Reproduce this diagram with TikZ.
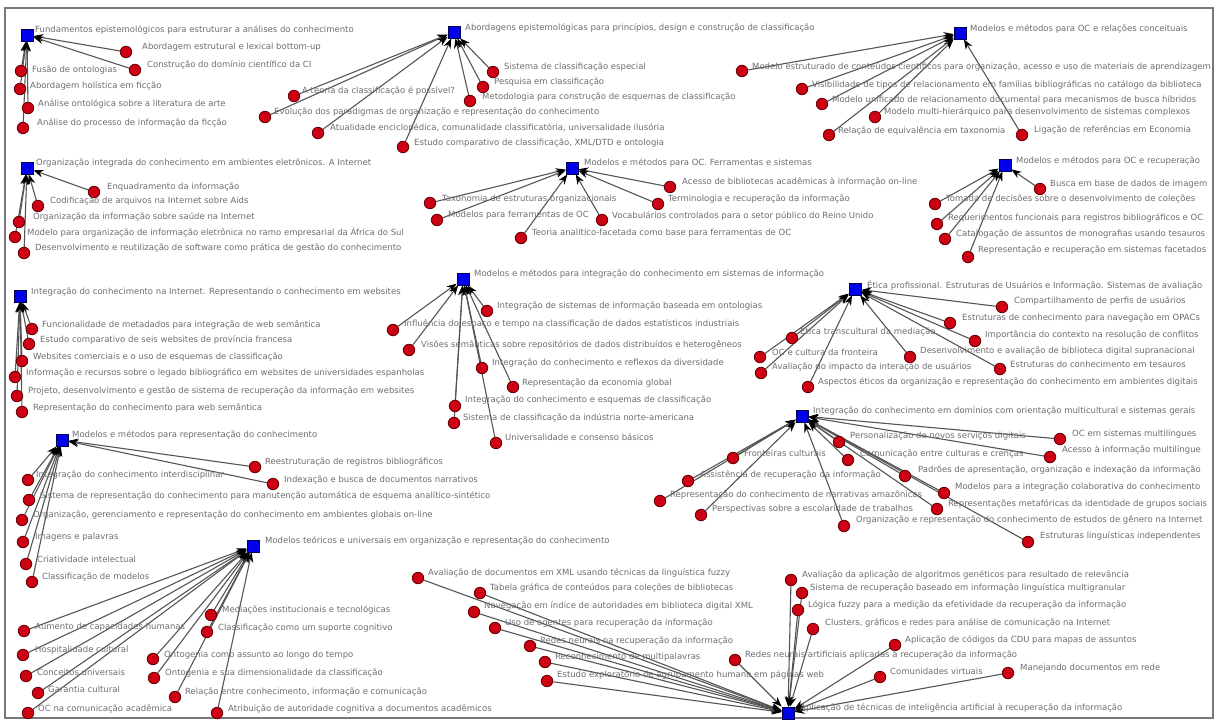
\documentclass[tikz,border=0pt]{standalone}
\usepackage{fontspec}
\setmainfont{DejaVu Sans}
\usetikzlibrary{arrows.meta}
\pgfdeclarelayer{bg}
\pgfsetlayers{bg,main}
\definecolor{txt}{RGB}{110,110,115}
\definecolor{edg}{RGB}{85,85,85}
\definecolor{rfill}{RGB}{205,0,20}
\definecolor{rdraw}{RGB}{100,0,0}
\definecolor{bfill}{RGB}{0,0,235}
\definecolor{bdraw}{RGB}{0,0,80}
\definecolor{frm}{RGB}{120,120,120}
\tikzset{
  hub/.style={rectangle, fill=bfill, draw=bdraw, line width=0.7pt, minimum size=12pt, inner sep=0pt},
  leaf/.style={circle, fill=rfill, draw=rdraw, line width=0.8pt, minimum size=11.5pt, inner sep=0pt},
  lbl/.style={anchor=west, inner sep=0pt, text=txt, font=\fontsize{8.5}{10}\selectfont},
  lnk/.style={draw=edg, line width=1.1pt, -{Stealth[length=10pt,width=7.5pt,color=black]}},
}
\newcommand\hb[6]{\node[hub] (#1) at (#2,#3) {}; \node[lbl] (#1t) at (#4,#5) {#6};}
\newcommand\lf[7]{\node[leaf] (#1) at (#2,#3) {}; \node[lbl] (#1t) at (#4,#5) {#6};
  \begin{pgfonlayer}{bg}\draw[lnk] (#1) -- (#7);\end{pgfonlayer}}
\begin{document}
\begin{tikzpicture}[x=1pt,y=-1pt]
\useasboundingbox (0,0) rectangle (1219,720);
\begin{pgfonlayer}{bg}
\fill[white] (0,0) rectangle (1219,720);
\draw[frm, line width=1.2pt] (5,8) rectangle (1213,718);
\end{pgfonlayer}
% hubs
\hb{h1}{27}{35}{35}{30}{Fundamentos epistemológicos para estruturar a análises do conhecimento}
\hb{h2}{27}{168}{36}{163}{Organização integrada do conhecimento em ambientes eletrônicos. A Internet}
\hb{h3}{20}{296}{31}{292}{Integração do conhecimento na Internet. Representando o conhecimento em websites}
\hb{h4}{62}{440}{72}{435}{Modelos e métodos para representação do conhecimento}
\hb{h5}{253}{546}{265}{541}{Modelos teóricos e universais em organização e representação do conhecimento}
\hb{h6}{454}{32}{465}{28}{Abordagens epistemológicas para princípios, design e construção de classificação}
\hb{h7}{572}{168}{584}{163}{Modelos e métodos para OC. Ferramentas e sistemas}
\hb{h8}{960}{33}{970}{29}{Modelos e métodos para OC e relações conceituais}
\hb{h9}{1005}{165}{1016}{161}{Modelos e métodos para OC e recuperação}
\hb{h10}{463}{279}{474}{274}{Modelos e métodos para integração do conhecimento em sistemas de informação}
\hb{h11}{855}{289}{867}{285}{Ética profissional. Estruturas de Usuários e Informação. Sistemas de avaliação}
\hb{h12}{802}{416}{813}{411}{Integração do conhecimento em domínios com orientação multicultural e sistemas gerais}
\hb{h13}{788}{713}{800}{708}{Aplicação de técnicas de inteligência artificial à recuperação da informação}
% cluster 1
\lf{a1}{126}{52}{142}{47}{Abordagem estrutural e lexical bottom-up}{h1}
\lf{a2}{135}{70}{147}{65}{Construção do domínio científico da CI}{h1}
\lf{a3}{21}{71}{32}{70}{Fusão de ontologias}{h1}
\lf{a4}{20}{89}{30}{86}{Abordagem holística em ficção}{h1}
\lf{a5}{28}{108}{38}{104}{Análise ontológica sobre a literatura de arte}{h1}
\lf{a6}{23}{128}{37}{123}{Análise do processo de informação da ficção}{h1}
% cluster 2
\lf{b1}{94}{192}{107}{187}{Enquadramento da informação}{h2}
\lf{b2}{38}{206}{50}{201}{Codificação de arquivos na Internet sobre Aids}{h2}
\lf{b3}{19}{222}{33}{217}{Organização da informação sobre saúde na Internet}{h2}
\lf{b4}{15}{237}{27}{232}{Modelo para organização de informação eletrônica no ramo empresarial da África do Sul}{h2}
\lf{b5}{24}{253}{35}{248}{Desenvolvimento e reutilização de software como prática de gestão do conhecimento}{h2}
% cluster 3
\lf{c1}{32}{329}{42}{325}{Funcionalidade de metadados para integração de web semântica}{h3}
\lf{c2}{29}{344}{40}{340}{Estudo comparativo de seis websites de província francesa}{h3}
\lf{c3}{22}{361}{33}{357}{Websites comerciais e o uso de esquemas de classificação}{h3}
\lf{c4}{15}{377}{26}{373}{Informação e recursos sobre o legado bibliográfico em websites de universidades espanholas}{h3}
\lf{c5}{17}{396}{28}{391}{Projeto, desenvolvimento e gestão de sistema de recuperação da informação em websites}{h3}
\lf{c6}{22}{412}{33}{408}{Representação do conhecimento para web semântica}{h3}
% cluster 4
\lf{d1}{255}{467}{265}{462}{Reestruturação de registros bibliográficos}{h4}
\lf{d2}{273}{484}{284}{480}{Indexação e busca de documentos narrativos}{h4}
\lf{d3}{28}{480}{36}{475}{Integração do conhecimento interdisciplinar}{h4}
\lf{d4}{29}{500}{40}{496}{Sistema de representação do conhecimento para manutenção automática de esquema analítico-sintético}{h4}
\lf{d5}{22}{520}{33}{515}{Organização, gerenciamento e representação do conhecimento em ambientes globais on-line}{h4}
\lf{d6}{23}{542}{35}{537}{Imagens e palavras}{h4}
\lf{d7}{26}{564}{37}{559}{Criatividade intelectual}{h4}
\lf{d8}{32}{582}{42}{577}{Classificação de modelos}{h4}
% cluster 5
\lf{e1}{211}{615}{222}{610}{Mediações institucionais e tecnológicas}{h5}
\lf{e2}{207}{632}{218}{628}{Classificação como um suporte cognitivo}{h5}
\lf{e3}{24}{631}{35}{627}{Aumento de capacidades humanas}{h5}
\lf{e4}{23}{655}{35}{650}{Hospitalidade cultural}{h5}
\lf{e5}{26}{676}{37}{672}{Conceitos universais}{h5}
\lf{e6}{38}{693}{48}{689}{Garantia cultural}{h5}
\lf{e7}{28}{713}{38}{709}{OC na comunicação acadêmica}{h5}
\lf{e8}{153}{659}{164}{655}{Ontogenia como assunto ao longo do tempo}{h5}
\lf{e9}{154}{678}{165}{673}{Ontogenia e sua dimensionalidade da classificação}{h5}
\lf{e10}{175}{697}{185}{692}{Relação entre conhecimento, informação e comunicação}{h5}
\lf{e11}{217}{713}{228}{709}{Atribuição de autoridade cognitiva a documentos acadêmicos}{h5}
% cluster 6
\lf{f1}{493}{72}{504}{67}{Sistema de classificação especial}{h6}
\lf{f2}{483}{87}{494}{82}{Pesquisa em classificação}{h6}
\lf{f3}{470}{101}{482}{97}{Metodologia para construção de esquemas de classificação}{h6}
\lf{f4}{294}{96}{302}{91}{A teoria da classificação é possível?}{h6}
\lf{f5}{265}{117}{274}{112}{Evolução dos paradigmas de organização e representação do conhecimento}{h6}
\lf{f6}{318}{133}{330}{128}{Atualidade enciclopédica, comunalidade classificatória, universalidade ilusória}{h6}
\lf{f7}{403}{147}{414}{143}{Estudo comparativo de classificação, XML/DTD e ontologia}{h6}
% cluster 7
\lf{g1}{670}{187}{682}{182}{Acesso de bibliotecas acadêmicas à informação on-line}{h7}
\lf{g2}{658}{204}{668}{199}{Terminologia e recuperação da informação}{h7}
\lf{g3}{602}{220}{612}{216}{Vocabulários controlados para o setor público do Reino Unido}{h7}
\lf{g4}{430}{203}{442}{199}{Taxonomia de estruturas organizacionais}{h7}
\lf{g5}{437}{220}{448}{215}{Modelos para ferramentas de OC}{h7}
\lf{g6}{521}{238}{532}{233}{Teoria analítico-facetada como base para ferramentas de OC}{h7}
% cluster 8
\lf{k1}{742}{71}{752}{67}{Modelo estruturado de conteúdos científicos para organização, acesso e uso de materiais de aprendizagem}{h8}
\lf{k2}{802}{89}{812}{85}{Visibilidade de tipos de relacionamento em famílias bibliográficas no catálogo da biblioteca}{h8}
\lf{k3}{822}{104}{832}{100}{Modelo unificado de relacionamento documental para mecanismos de busca híbridos}{h8}
\lf{k4}{875}{117}{884}{112}{Modelo multi-hierárquico para desenvolvimento de sistemas complexos}{h8}
\lf{k5}{829}{135}{838}{131}{Relação de equivalência em taxonomia}{h8}
\lf{k6}{1022}{135}{1034}{130}{Ligação de referências em Economia}{h8}
% cluster 9
\lf{m1}{1040}{189}{1050}{184}{Busca em base de dados de imagem}{h9}
\lf{m2}{935}{204}{946}{199}{Tomada de decisões sobre o desenvolvimento de coleções}{h9}
\lf{m3}{937}{224}{948}{218}{Requerimentos funcionais para registros bibliográficos e OC}{h9}
\lf{m4}{945}{239}{956}{234}{Catalogação de assuntos de monografias usando tesauros}{h9}
\lf{m5}{968}{257}{978}{250}{Representação e recuperação em sistemas facetados}{h9}
% cluster 10
\lf{n1}{487}{311}{497}{306}{Integração de sistemas de informação baseada em ontologias}{h10}
\lf{n2}{393}{330}{404}{324}{Influência do espaço e tempo na classificação de dados estatísticos industriais}{h10}
\lf{n3}{409}{350}{421}{345}{Visões semânticas sobre repositórios de dados distribuídos e heterogêneos}{h10}
\lf{n4}{482}{368}{492}{363}{Integração do conhecimento e reflexos da diversidade}{h10}
\lf{n5}{513}{387}{522}{383}{Representação da economia global}{h10}
\lf{n6}{455}{406}{465}{400}{Integração do conhecimento e esquemas de classificação}{h10}
\lf{n7}{454}{423}{463}{418}{Sistema de classificação da indústria norte-americana}{h10}
\lf{n8}{496}{443}{505}{437}{Universalidade e consenso básicos}{h10}
% cluster 11
\lf{p1}{1002}{307}{1014}{301}{Compartilhamento de perfis de usuários}{h11}
\lf{p2}{950}{323}{962}{318}{Estruturas de conhecimento para navegação em OPACs}{h11}
\lf{p3}{975}{341}{985}{335}{Importância do contexto na resolução de conflitos}{h11}
\lf{p4}{792}{338}{800}{331}{Ética transcultural da mediação}{h11}
\lf{p5}{760}{357}{772}{352}{OC e cultura da fronteira}{h11}
\lf{p6}{910}{357}{920}{351}{Desenvolvimento e avaliação de biblioteca digital supranacional}{h11}
\lf{p7}{761}{373}{772}{367}{Avaliação do impacto da interação de usuários}{h11}
\lf{p8}{1000}{369}{1010}{364}{Estruturas do conhecimento em tesauros}{h11}
\lf{p9}{808}{387}{818}{382}{Aspectos éticos da organização e representação do conhecimento em ambientes digitais}{h11}
% cluster 12
\lf{q1}{1060}{439}{1072}{434}{OC em sistemas multilíngues}{h12}
\lf{q2}{1050}{457}{1062}{450}{Acesso à informação multilíngue}{h12}
\lf{q3}{839}{442}{850}{436}{Personalização de novos serviços digitais}{h12}
\lf{q4}{848}{460}{860}{454}{Comunicação entre culturas e crenças}{h12}
\lf{q5}{905}{476}{918}{470}{Padrões de apresentação, organização e indexação da informação}{h12}
\lf{q6}{944}{493}{955}{487}{Modelos para a integração colaborativa do conhecimento}{h12}
\lf{q7}{937}{509}{948}{504}{Representações metafóricas da identidade de grupos sociais}{h12}
\lf{q8}{733}{458}{744}{453}{Fronteiras culturais}{h12}
\lf{q9}{688}{481}{700}{475}{Assistência de recuperação da informação}{h12}
\lf{q10}{660}{501}{670}{495}{Representação do conhecimento de narrativas amazônicas}{h12}
\lf{q11}{701}{515}{712}{509}{Perspectivas sobre a escolaridade de trabalhos}{h12}
\lf{q12}{844}{526}{856}{520}{Organização e representação do conhecimento de estudos de gênero na Internet}{h12}
\lf{q13}{1028}{542}{1040}{536}{Estruturas linguísticas independentes}{h12}
% cluster 13
\lf{r1}{418}{578}{428}{573}{Avaliação de documentos em XML usando técnicas da linguística fuzzy}{h13}
\lf{r2}{480}{593}{490}{588}{Tabela gráfica de conteúdos para coleções de bibliotecas}{h13}
\lf{r3}{474}{612}{484}{606}{Navegação em índice de autoridades em biblioteca digital XML}{h13}
\lf{r4}{495}{628}{505}{623}{Uso de agentes para recuperação da informação}{h13}
\lf{r5}{530}{646}{540}{641}{Redes neurais na recuperação da informação}{h13}
\lf{r6}{545}{662}{555}{657}{Reconhecimento de multipalavras}{h13}
\lf{r7}{547}{681}{557}{675}{Estudo exploratório de agrupamento humano em páginas web}{h13}
\lf{r8}{791}{580}{802}{575}{Avaliação da aplicação de algoritmos genéticos para resultado de relevância}{h13}
\lf{r9}{802}{593}{810}{588}{Sistema de recuperação baseado em informação linguística multigranular}{h13}
\lf{r10}{798}{610}{808}{605}{Lógica fuzzy para a medição da efetividade da recuperação da informação}{h13}
\lf{r11}{813}{629}{825}{623}{Clusters, gráficos e redes para análise de comunicação na Internet}{h13}
\lf{r12}{895}{645}{905}{640}{Aplicação de códigos da CDU para mapas de assuntos}{h13}
\lf{r13}{735}{660}{745}{655}{Redes neurais artificiais aplicadas à recuperação da informação}{h13}
\lf{r14}{880}{677}{890}{671}{Comunidades virtuais}{h13}
\lf{r15}{1008}{673}{1020}{668}{Manejando documentos em rede}{h13}
\end{tikzpicture}
\end{document}
